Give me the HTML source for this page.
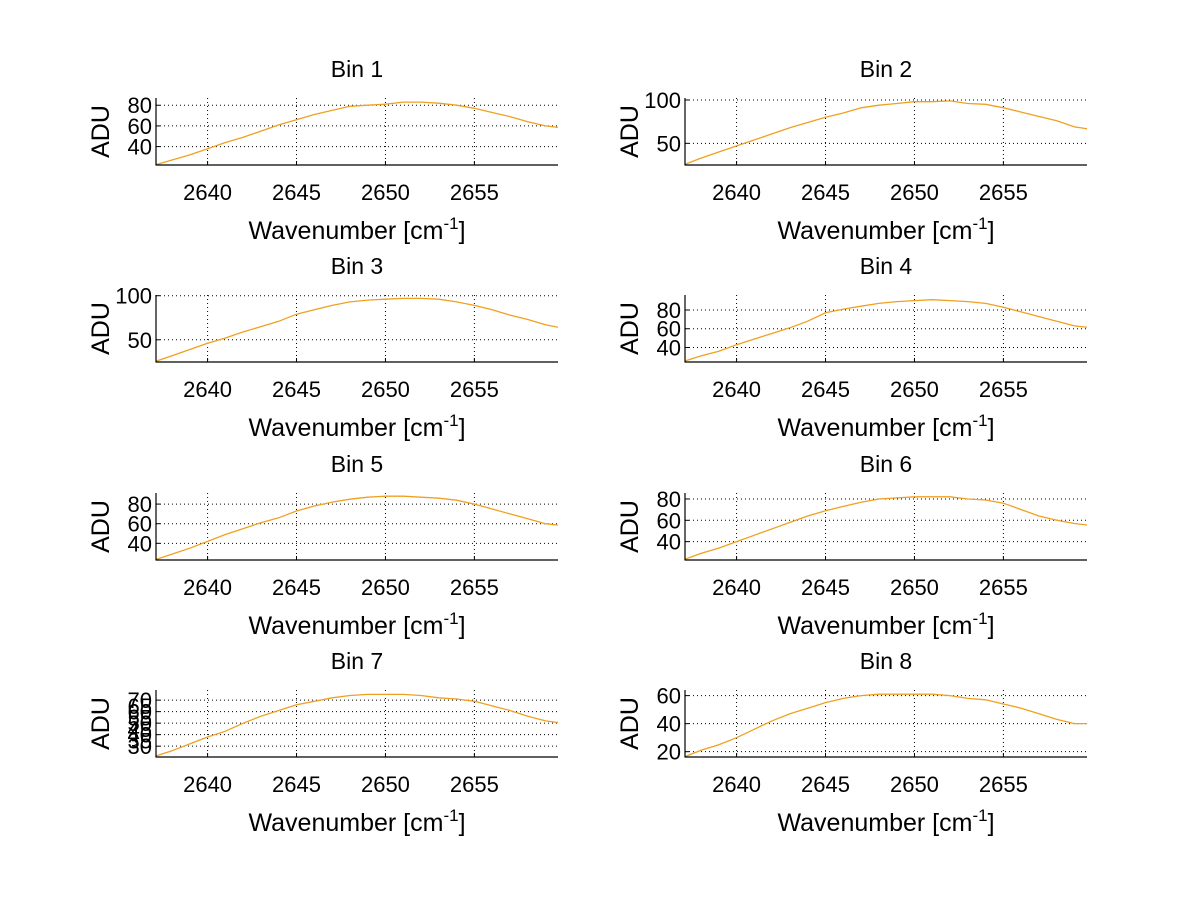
<!DOCTYPE html>
<html><head><meta charset="utf-8"><style>
html,body{margin:0;padding:0;background:#fff;}
svg{display:block;font-family:"Liberation Sans",sans-serif;}
</style></head><body>
<svg id="fig" width="1200" height="901" xmlns="http://www.w3.org/2000/svg"></svg>
<script>
const xTicks=[2640,2645,2650,2655];
const xLim=[2637.1,2659.7];
const wavenumbers=[2637,2638,2639,2640,2641,2642,2643,2644,2645,2646,2647,2648,2649,2650,2651,2652,2653,2654,2655,2656,2657,2658,2659,2660];
const bin1=[22,27,32,38,44,49,55,61,66,71,75,79,80,81,83,83,82,80,77,73,69,64,60,58];
const bin2=[25,33,40,47,54,61,68,74,80,85,91,94,96,98,98,99,96,95,91,86,81,76,69,66];
const bin3=[25,32,39,46,52,59,65,71,79,84,89,93,95,96,97,97,96,93,89,84,78,73,67,63];
const bin4=[25,31,36,43,49,55,61,68,77,81,84,87,89,90,91,90,89,87,83,78,73,68,63,61];
const bin5=[23,29,35,42,49,55,61,66,73,78,82,85,87,88,88,87,86,84,80,75,70,65,60,58];
const bin6=[23,29,34,40,46,52,58,64,69,73,77,80,81,82,82,82,80,79,76,70,64,60,57,55];
const bin7=[21,26,32,38,43,50,56,61,66,69,72,74,75,75,75,74,72,71,69,65,61,56,52,50];
const bin8=[16,21,25,30,36,42,47,51,55,58,60,61,61,61,61,60,58,57,54,51,47,43,40,40];
const yLims=[[22.2,87],[25,102.3],[24.8,100.8],[24.5,96],[23,91.3],[22.8,85.6],[20.6,78.8],[16.2,64]];
const yGrid=[[40,60,80],[50,100],[50,100],[40,60,80],[40,60,80],[40,60,80],[30,40,50,60,70],[20,40,60]];
const yLabels=[[40,60,80],[50,100],[50,100],[40,60,80],[40,60,80],[40,60,80],[30,35,40,45,50,55,60,65,70],[20,40,60]];
const series=[bin1,bin2,bin3,bin4,bin5,bin6,bin7,bin8];

const NS="http://www.w3.org/2000/svg";
const svg=document.getElementById('fig');
function mk(tag,attrs,parent){const e=document.createElementNS(NS,tag);for(const k in attrs)e.setAttribute(k,attrs[k]);(parent||svg).appendChild(e);return e;}
const colX=[[156,558],[685,1087]];
const rowTop=[98,295,493,690];
const H=67;
for(let i=0;i<8;i++){
  const col=i%2,row=Math.floor(i/2);
  const x0=colX[col][0],x1=colX[col][1],y0=rowTop[row],y1=y0+H;
  const yl=yLims[i];
  const sx=v=>x0+(v-xLim[0])/(xLim[1]-xLim[0])*(x1-x0);
  const sy=v=>y1-(v-yl[0])/(yl[1]-yl[0])*(y1-y0);
  const g=mk('g',{});
  
  
  const cp=mk('clipPath',{id:'c'+i},g);
  mk('rect',{x:x0,y:y0,width:x1-x0,height:H},cp);
  xTicks.forEach(t=>{const l=mk('line',{x1:sx(t),x2:sx(t),y1:y0,y2:y1,stroke:'#000','stroke-width':1,'stroke-dasharray':'1,3'},g);
    
    mk('line',{x1:sx(t),x2:sx(t),y1:y1,y2:y1-4,stroke:'#000'},g);
    const tx=mk('text',{x:sx(t),y:y1+35,'text-anchor':'middle','font-size':22},g);tx.textContent=t;
    });
  yGrid[i].forEach(t=>{const l=mk('line',{x1:x0,x2:x1,y1:sy(t),y2:sy(t),stroke:'#000','stroke-width':1,'stroke-dasharray':'1,3'},g);
    
    mk('line',{x1:x0,x2:x0+4,y1:sy(t),y2:sy(t),stroke:'#000'},g);});
  yLabels[i].forEach(t=>{const tx=mk('text',{x:x0-4,y:sy(t)+8,'text-anchor':'end','font-size':22},g);tx.textContent=t;
    });
  const d=series[i].map((v,k)=>(k?'L':'M')+sx(wavenumbers[k]).toFixed(1)+','+sy(v).toFixed(1)).join('');
  const p=mk('path',{d:d,fill:'none',stroke:'#f0a020','stroke-width':1.3,'clip-path':'url(#c'+i+')'},g);
  
  mk('line',{x1:x0,x2:x0,y1:y0,y2:y1+0.5,stroke:'#000','stroke-width':1.2},g);
  mk('line',{x1:x0,x2:x1,y1:y1,y2:y1,stroke:'#000','stroke-width':1.2},g);
  const ti=mk('text',{x:(x0+x1)/2,y:y0-21,'text-anchor':'middle','font-size':23},g);ti.textContent='Bin '+(i+1);
  
  const xl=mk('text',{x:(x0+x1)/2,y:y1+74,'text-anchor':'middle','font-size':25},g);
  xl.innerHTML='Wavenumber [cm<tspan dy="-10" font-size="17">-1</tspan><tspan dy="10">]</tspan>';
  
  const ylx=x0-47, ylyc=(y0+y1)/2;
  const yt=mk('text',{x:ylx,y:ylyc,'text-anchor':'middle','font-size':25,transform:'rotate(-90 '+ylx+' '+ylyc+')'},g);yt.textContent='ADU';
  
}
</script>
</body></html>
